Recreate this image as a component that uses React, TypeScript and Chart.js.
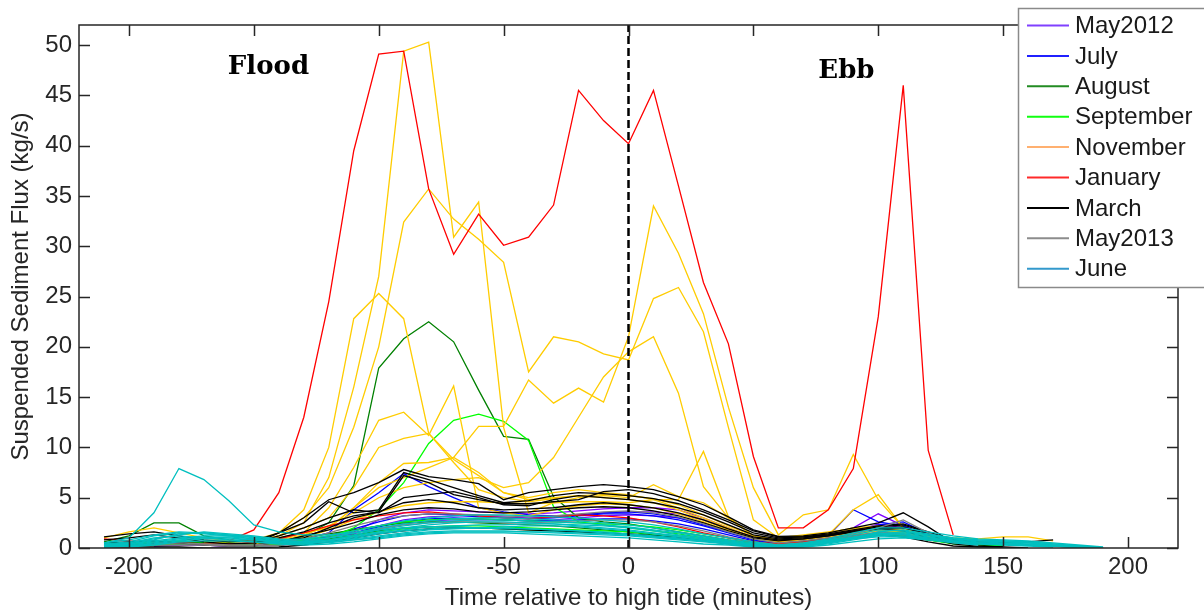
import React, { useEffect, useRef } from 'react';
import { Chart, registerables } from 'chart.js';

Chart.register(...registerables);

const _ = null;

// Time relative to high tide (minutes)
const TIME = [-210, -200, -190, -180, -170, -160, -150, -140, -130, -120,
  -110, -100, -90, -80, -70, -60, -50, -40, -30, -20,
  -10, 0, 10, 20, 30, 40, 50, 60, 70, 80,
  90, 100, 110, 120, 130, 140, 150, 160, 170, 180,
  190];

const X_TICKS = [-200, -150, -100, -50, 0, 50, 100, 150, 200];
const Y_TICKS = [0, 5, 10, 15, 20, 25, 30, 35, 40, 45, 50];

// May2012
const MAY12_A = [0.3, 0.4, 0.5, 0.5, 0.4, 0.3, 0.3, 0.4, 0.7, 1.1,
  1.6, 2.8, 3.5, 3.8, 3.7, 3.6, 3.5, 3.4, 3.5, 3.7,
  3.9, 4.0, 4.0, 3.8, 3.0, 2.0, 1.0, 0.5, 0.8, 1.2,
  2.0, 3.4, 2.2, 1.2, 0.6, 0.3, _, _, _, _, _];
const MAY12_B = [_, 0.3, 0.4, 0.4, 0.3, 0.2, 0.2, 0.3, 0.6, 1.0,
  1.4, 2.2, 2.8, 3.1, 3.2, 3.2, 3.1, 3.0, 3.1, 3.3,
  3.5, 3.6, 3.6, 3.4, 2.8, 1.9, 1.1, 0.5, 0.7, 1.1,
  1.6, 2.4, 2.0, 1.2, 0.7, 0.4, 0.2, _, _, _, _];
const MAY12_C = [_, _, 0.2, 0.3, 0.3, 0.2, 0.2, 0.3, 0.5, 0.8,
  1.2, 1.9, 2.4, 2.7, 2.8, 2.8, 2.8, 2.7, 2.8, 3.0,
  3.2, 3.3, 3.2, 3.0, 2.5, 1.7, 0.9, 0.4, 0.6, 1.0,
  1.5, 2.0, 1.7, 1.0, 0.5, 0.3, _, _, _, _, _];

// July
const JUL_A = [_, _, _, _, _, _, 0.3, 0.5, 0.9, 1.5,
  3.8, 5.5, 7.4, 6.1, 5.0, 4.0, 3.6, 3.3, 3.2, 3.3,
  3.5, 3.6, 3.4, 3.0, 2.3, 1.6, 0.9, 0.5, 0.7, 1.2,
  3.8, 2.6, 2.2, 1.2, 0.6, 0.3, _, _, _, _, _];
const JUL_B = [0.2, 0.3, 0.5, 0.6, 0.5, 0.4, 0.3, 0.4, 0.7, 1.2,
  1.9, 2.6, 3.2, 3.4, 3.3, 3.1, 3.0, 2.9, 3.0, 3.2,
  3.4, 3.4, 3.2, 2.8, 2.2, 1.5, 0.8, 0.4, 0.6, 1.0,
  1.5, 2.3, 2.6, 1.4, 0.6, 0.3, _, _, _, _, _];
const JUL_C = [_, 0.2, 0.3, 0.4, 0.4, 0.3, 0.3, 0.3, 0.5, 0.9,
  1.5, 2.1, 2.6, 2.9, 3.0, 2.9, 2.8, 2.7, 2.7, 2.8,
  2.9, 2.9, 2.7, 2.4, 1.9, 1.3, 0.7, 0.4, 0.5, 0.9,
  1.3, 2.0, 1.8, 1.1, 0.6, 0.3, _, _, _, _, _];

// August
const AUG_A = [0.4, 0.5, 0.6, 0.6, 0.5, 0.4, 0.4, 0.6, 1.2, 2.5,
  6.2, 17.9, 20.8, 22.5, 20.5, 15.7, 11.1, 10.8, 5.1, 3.0,
  2.6, 2.4, 2.0, 1.6, 1.2, 0.8, 0.5, 0.4, 0.6, 0.9,
  1.2, 1.5, 1.3, 0.9, 0.6, 0.3, _, _, _, _, _];
const AUG_B = [0.6, 1.2, 2.5, 2.5, 1.2, 0.8, 0.6, 0.7, 1.0, 1.4,
  1.8, 2.2, 2.5, 2.6, 2.6, 2.5, 2.4, 2.3, 2.2, 2.0,
  1.8, 1.6, 1.3, 1.0, 0.8, 0.6, 0.4, 0.3, 0.5, 0.8,
  1.1, 1.4, 1.2, 0.8, 0.5, 0.3, _, _, _, _, _];
const AUG_C = [_, 0.3, 0.5, 0.6, 0.5, 0.4, 0.3, 0.4, 0.6, 0.9,
  1.3, 1.7, 2.0, 2.1, 2.1, 2.0, 1.9, 1.8, 1.7, 1.6,
  1.5, 1.4, 1.2, 1.0, 0.7, 0.5, 0.3, 0.2, 0.4, 0.7,
  1.0, 1.3, 1.1, 0.8, 0.5, 0.3, 0.2, _, _, _, _];

// September
const SEP_A = [_, _, _, _, _, _, 0.3, 0.4, 0.5, 1.0,
  2.0, 3.8, 6.5, 10.4, 12.7, 13.3, 12.6, 10.7, 4.1, 2.6,
  2.3, 2.0, 1.7, 1.4, 1.0, 0.7, 0.4, 0.3, 0.5, 0.8,
  1.1, 1.3, 1.2, 0.8, 0.4, 0.2, _, _, _, _, _];
const SEP_B = [0.3, 0.4, 0.6, 0.7, 0.6, 0.5, 0.4, 0.5, 0.8, 1.2,
  1.7, 2.2, 2.6, 2.8, 2.9, 2.9, 2.8, 2.7, 2.6, 2.5,
  2.4, 2.3, 2.1, 1.8, 1.4, 1.0, 0.6, 0.3, 0.5, 0.9,
  1.3, 1.8, 1.6, 1.1, 0.7, 0.4, 0.2, _, _, _, _];
const SEP_C = [_, 0.2, 0.3, 0.4, 0.4, 0.3, 0.2, 0.3, 0.5, 0.8,
  1.2, 1.6, 1.9, 2.1, 2.2, 2.2, 2.1, 2.0, 1.9, 1.8,
  1.7, 1.6, 1.4, 1.2, 0.9, 0.6, 0.4, 0.2, 0.4, 0.7,
  1.0, 1.4, 1.3, 0.9, 0.6, 0.3, _, _, _, _, _];

// November
const NOV_A = [1.0, 1.6, 2.0, 1.5, 1.0, 0.7, 0.6, 1.2, 2.5, 7.0,
  16.0, 27.0, 49.4, 50.3, 30.9, 34.4, 12.0, 3.5, 4.5, 5.0,
  5.2, 5.0, 6.3, 5.1, 4.5, 3.0, 1.2, 0.8, 1.2, 1.5,
  2.0, 2.2, 1.8, 1.2, 0.8, 0.6, 0.5, _, _, _, _];
const NOV_B = [_, _, _, _, _, _, 0.8, 1.5, 3.0, 6.0,
  12.0, 20.0, 32.4, 35.7, 32.7, 30.7, 28.4, 17.5, 21.0, 20.5,
  19.3, 18.7, 24.8, 25.9, 21.5, 12.0, 2.8, 1.0, 1.3, 1.6,
  1.9, 2.1, 1.7, 1.1, 0.8, 0.6, _, _, _, _, _];
const NOV_C = [_, _, _, _, _, _, 0.6, 1.5, 3.8, 10.0,
  22.8, 25.3, 22.8, 11.4, 8.8, 7.2, 5.5, 4.8, 5.0, 5.2,
  5.0, 4.8, 4.5, 3.8, 2.8, 1.8, 1.0, 0.7, 1.0, 1.4,
  1.8, 2.1, 1.6, 1.0, 0.7, _, _, _, _, _, _];
const NOV_D = [_, _, _, _, _, _, 0.5, 1.0, 1.5, 4.0,
  8.0, 12.7, 13.5, 11.2, 16.1, 4.0, 3.5, 3.2, 3.8, 4.2,
  4.4, 4.3, 4.0, 3.4, 2.6, 1.7, 0.9, 0.6, 0.9, 1.2,
  1.6, 1.9, 1.5, 0.9, 0.6, _, _, _, _, _, _];
const NOV_E = [_, _, _, _, 0.5, 0.6, 0.7, 1.2, 2.0, 3.0,
  6.0, 10.0, 10.9, 11.4, 8.5, 5.8, 5.0, 4.6, 4.9, 5.2,
  5.3, 5.2, 4.9, 4.3, 3.3, 2.2, 1.2, 0.7, 0.9, 1.3,
  1.7, 2.0, 1.6, 1.1, 0.7, 0.5, _, _, _, _, _];
const NOV_F = [_, _, _, _, _, _, 0.5, 0.9, 1.5, 2.0,
  4.0, 6.0, 7.0, 8.0, 9.0, 12.1, 12.1, 16.7, 14.4, 15.9,
  14.5, 21.0, 34.0, 29.3, 23.3, 14.0, 6.0, 1.3, 3.3, 3.8,
  9.3, 4.8, 2.0, 1.3, 1.0, 0.9, 1.1, 1.1, 0.7, _, _];
const NOV_G = [_, _, _, _, _, _, _, 0.5, 1.0, 1.8,
  2.8, 3.6, 4.2, 4.5, 4.6, 4.6, 4.5, 4.4, 4.5, 4.6,
  4.6, 4.5, 4.8, 4.8, 9.6, 3.1, 1.2, 0.8, 1.0, 1.3,
  3.8, 5.3, 2.0, 1.2, 0.8, _, _, _, _, _, _];
const NOV_H = [_, _, _, _, _, _, 0.5, 1.0, 1.5, 2.0,
  4.0, 6.5, 8.4, 8.5, 9.0, 7.5, 5.5, 5.0, 5.5, 5.8,
  5.5, 5.3, 4.8, 4.0, 3.0, 2.0, 1.0, 0.6, 0.8, 1.1,
  1.4, 1.7, 1.3, 0.9, 0.6, _, _, _, _, _, _];
const NOV_I = [_, _, _, _, _, _, 0.4, 0.8, 1.3, 2.2,
  3.5, 5.0, 6.0, 6.5, 6.8, 7.0, 6.0, 6.5, 9.0, 13.0,
  17.0, 19.5, 21.0, 15.4, 6.1, 3.0, 1.2, 0.7, 0.9, 1.2,
  1.5, 1.8, 1.4, 0.9, 0.6, _, _, _, _, _, _];

// January
const JAN_A = [_, _, _, _, _, 0.7, 1.8, 5.5, 13.0, 24.5,
  39.5, 49.1, 49.4, 35.7, 29.2, 33.2, 30.1, 30.9, 34.1, 45.5,
  42.5, 40.2, 45.5, 36.0, 26.4, 20.3, 9.1, 2.0, 2.0, 3.8,
  7.9, 23.0, 46.0, 9.7, 1.3, _, _, _, _, _, _];
const JAN_B = [0.9, 0.7, 0.6, 0.5, 0.4, 0.4, 0.5, 0.9, 1.5, 2.2,
  2.8, 3.2, 3.5, 3.6, 3.4, 3.2, 3.0, 2.9, 3.1, 3.3,
  3.2, 3.0, 2.6, 2.1, 1.5, 1.0, 0.6, 0.4, 0.6, 0.9,
  1.2, 1.5, 1.3, 0.9, 0.5, _, _, _, _, _, _];

// March
const MAR_A = [_, _, _, _, _, _, 0.4, 1.5, 3.0, 4.8,
  5.5, 6.5, 7.8, 7.1, 6.8, 6.4, 4.8, 5.5, 5.8, 6.1,
  6.3, 6.1, 5.8, 5.1, 4.3, 3.1, 1.8, 1.15, 1.2, 1.5,
  2.0, 2.5, 3.5, 2.1, 0.5, _, _, _, _, _, _];
const MAR_B = [1.1, 1.4, 1.6, 1.2, 0.8, 0.6, 0.7, 1.5, 2.5, 4.6,
  3.5, 3.8, 7.5, 6.8, 6.0, 5.2, 4.5, 4.7, 5.2, 5.5,
  5.4, 5.2, 4.9, 4.4, 3.6, 2.6, 1.5, 1.0, 1.1, 1.4,
  1.8, 2.2, 2.4, 1.6, 0.8, 0.5, _, _, _, _, _];
const MAR_C = [_, _, _, _, _, _, 0.5, 1.2, 2.0, 3.0,
  3.8, 3.5, 5.0, 5.3, 5.6, 5.0, 4.3, 4.2, 4.8, 5.2,
  5.0, 4.8, 4.5, 4.0, 3.3, 2.3, 1.3, 0.9, 1.0, 1.3,
  1.7, 2.1, 2.3, 1.5, 0.6, _, _, _, _, _, _];
const MAR_D = [_, _, _, _, _, _, 0.3, 0.6, 1.0, 2.0,
  3.0, 3.6, 4.5, 4.8, 4.5, 4.0, 3.8, 3.9, 4.0, 4.3,
  4.5, 4.3, 4.0, 3.5, 2.8, 1.9, 1.1, 0.8, 0.9, 1.2,
  1.6, 1.9, 2.0, 1.4, 0.8, 0.6, 0.5, 0.6, 0.8, _, _];
const MAR_E = [0.8, 1.0, 1.3, 1.0, 0.6, 0.4, 0.5, 1.0, 1.6, 2.5,
  3.2, 3.6, 7.2, 6.5, 5.3, 4.8, 4.4, 4.4, 4.6, 4.8,
  5.6, 5.8, 5.4, 4.7, 3.8, 2.8, 1.7, 1.1, 1.1, 1.3,
  1.7, 2.0, 2.1, 1.3, 0.5, _, _, _, _, _, _];
const MAR_F = [0.5, 0.6, 0.7, 0.5, 0.3, 0.2, 0.2, 0.6, 1.2, 1.8,
  2.5, 3.3, 3.8, 4.0, 3.9, 3.6, 3.5, 3.6, 3.8, 4.0,
  4.1, 4.0, 3.7, 3.2, 2.5, 1.7, 1.0, 0.7, 0.9, 1.2,
  1.6, 1.9, 1.7, 1.0, 0.4, 0.2, 0.1, _, _, _, _];
const MAR_G = [0.1, 0.1, 0.1, 0.1, 0.0, 0.0, 0.0, 0.1, 0.3, 0.6,
  1.0, 1.4, 1.7, 1.9, 2.0, 2.0, 1.9, 1.8, 1.7, 1.6,
  1.5, 1.4, 1.2, 1.0, 0.7, 0.4, 0.2, 0.1, 0.3, 0.6,
  1.0, 1.3, 1.1, 0.6, 0.2, 0.1, 0.1, 0.0, _, _, _];

// May2013
const MAY13_A = [_, _, 0.4, 0.5, 0.4, 0.3, 0.3, 0.5, 0.9, 1.5,
  2.2, 2.8, 3.2, 3.4, 3.4, 3.3, 3.2, 3.1, 3.2, 3.4,
  3.6, 3.7, 3.5, 3.1, 2.4, 1.6, 0.9, 0.5, 0.7, 1.0,
  1.4, 2.0, 2.8, 1.5, 0.6, 0.3, _, _, _, _, _];
const MAY13_B = [_, 0.2, 0.3, 0.3, 0.3, 0.2, 0.2, 0.3, 0.6, 1.0,
  1.5, 1.9, 2.3, 2.5, 2.6, 2.6, 2.5, 2.5, 2.6, 2.7,
  2.8, 2.8, 2.6, 2.2, 1.7, 1.1, 0.6, 0.3, 0.5, 0.8,
  1.2, 1.6, 1.4, 0.9, 0.5, 0.3, _, _, _, _, _];

// June
const JUN_OUT = [0.5, 1.0, 3.5, 7.9, 6.8, 4.7, 2.3, 1.6, 1.3, 1.3,
  1.5, 1.8, 2.0, 2.1, 2.1, 2.0, 1.9, 1.9, 1.8, 1.7,
  1.5, 1.3, 1.1, 0.9, 0.7, 0.5, 0.3, 0.2, 0.4, 0.7,
  1.0, 1.3, 1.1, 0.8, 0.5, 0.3, _, _, _, _, _];
const JUN_1 = [0.3, 0.5, 1.0, 1.2, 1.0, 0.8, 0.6, 0.5, 0.6, 0.8,
  1.2, 1.6, 2.0, 2.3, 2.5, 2.6, 2.6, 2.5, 2.4, 2.2,
  2.0, 1.8, 1.5, 1.2, 0.9, 0.6, 0.3, 0.1, 0.3, 0.7,
  1.1, 1.5, 1.3, 1.0, 0.7, 0.5, 0.4, 0.3, 0.2, 0.1, 0.05];
const JUN_2 = [0.2, 0.4, 0.8, 1.4, 1.5, 1.3, 1.0, 0.7, 0.6, 0.7,
  1.0, 1.4, 1.7, 1.9, 2.0, 2.0, 2.0, 1.9, 1.8, 1.7,
  1.6, 1.4, 1.2, 1.0, 0.7, 0.5, 0.3, 0.1, 0.2, 0.5,
  0.9, 1.3, 1.4, 1.1, 0.8, 0.6, 0.5, 0.4, 0.2, 0.1, 0.0];
const JUN_3 = [0.4, 0.6, 1.2, 1.5, 1.4, 1.2, 0.9, 0.6, 0.7, 1.0,
  1.5, 2.0, 2.4, 2.7, 2.9, 3.0, 3.0, 2.9, 2.8, 2.7,
  2.5, 2.3, 2.0, 1.6, 1.2, 0.8, 0.5, 0.2, 0.4, 0.8,
  1.3, 1.8, 1.7, 1.3, 0.9, 0.7, 0.6, 0.5, 0.3, 0.2, 0.0];
const JUN_4 = [0.1, 0.2, 0.5, 0.8, 1.0, 1.1, 0.9, 0.6, 0.5, 0.5,
  0.8, 1.1, 1.4, 1.6, 1.7, 1.7, 1.7, 1.6, 1.5, 1.4,
  1.3, 1.2, 1.0, 0.8, 0.6, 0.4, 0.2, 0.0, 0.2, 0.4,
  0.8, 1.2, 1.2, 1.0, 0.7, 0.5, 0.4, 0.3, 0.2, 0.0, _];
const JUN_5 = [0.3, 0.5, 0.9, 1.3, 1.6, 1.4, 1.2, 0.9, 0.8, 1.0,
  1.3, 1.8, 2.2, 2.5, 2.7, 2.8, 2.8, 2.7, 2.6, 2.5,
  2.3, 2.1, 1.8, 1.5, 1.1, 0.7, 0.4, 0.2, 0.3, 0.6,
  1.0, 1.6, 1.8, 1.4, 1.0, 0.8, 0.7, 0.6, 0.4, 0.2, 0.0];
const JUN_6 = [0.2, 0.3, 0.6, 0.9, 1.1, 1.0, 0.8, 0.5, 0.4, 0.6,
  0.9, 1.2, 1.5, 1.8, 1.9, 2.0, 2.1, 2.2, 2.2, 2.1,
  1.9, 1.7, 1.4, 1.1, 0.8, 0.5, 0.2, 0.1, 0.3, 0.6,
  1.0, 1.4, 1.5, 1.2, 0.9, 0.7, 0.6, 0.5, 0.3, 0.1, _];
const JUN_7 = [_, 0.1, 0.3, 0.6, 0.7, 0.7, 0.6, 0.4, 0.3, 0.4,
  0.6, 0.9, 1.2, 1.4, 1.5, 1.5, 1.5, 1.4, 1.3, 1.2,
  1.1, 1.0, 0.8, 0.6, 0.4, 0.3, 0.1, 0.0, 0.1, 0.3,
  0.6, 0.9, 1.0, 0.8, 0.6, 0.4, 0.3, 0.2, 0.1, _, _];
const JUN_8 = [0.5, 0.8, 1.3, 1.6, 1.5, 1.3, 1.1, 0.8, 0.9, 1.2,
  1.7, 2.2, 2.7, 3.0, 3.2, 3.3, 3.3, 3.2, 3.1, 3.0,
  2.8, 2.6, 2.3, 1.9, 1.4, 1.0, 0.6, 0.3, 0.5, 0.9,
  1.5, 2.0, 2.0, 1.6, 1.2, 0.9, 0.8, 0.7, 0.5, 0.3, 0.1];
const JUN_9 = [0.3, 0.4, 0.7, 1.0, 1.2, 1.2, 1.1, 0.8, 0.6, 0.8,
  1.1, 1.5, 1.8, 2.1, 2.2, 2.3, 2.3, 2.4, 2.4, 2.3,
  2.2, 2.0, 1.7, 1.3, 1.0, 0.6, 0.3, 0.1, 0.3, 0.6,
  1.0, 1.4, 1.6, 1.3, 1.0, 0.8, 0.7, 0.6, 0.4, 0.2, 0.0];
const JUN_10 = [0.1, 0.2, 0.4, 0.7, 0.9, 0.9, 0.8, 0.6, 0.5, 0.6,
  0.8, 1.0, 1.3, 1.5, 1.6, 1.6, 1.6, 1.6, 1.6, 1.5,
  1.4, 1.3, 1.1, 0.9, 0.7, 0.4, 0.2, 0.0, 0.2, 0.5,
  0.9, 1.1, 1.1, 0.9, 0.7, 0.5, 0.4, 0.3, 0.2, 0.1, 0.0];

// High-tide marker
const HT_X = [0, 0];
const HT_Y = [0, 52];

const MONTHS = ['May2012', 'July', 'August', 'September', 'November', 'January', 'March', 'May2013', 'June'];
const SERIES = [
  [MAY12_A, MAY12_B, MAY12_C],
  [JUL_A, JUL_B, JUL_C],
  [AUG_A, AUG_B, AUG_C],
  [SEP_A, SEP_B, SEP_C],
  [NOV_A, NOV_B, NOV_C, NOV_D, NOV_E, NOV_F, NOV_G, NOV_H, NOV_I],
  [JAN_A, JAN_B],
  [MAR_A, MAR_B, MAR_C, MAR_D, MAR_E, MAR_F, MAR_G],
  [MAY13_A, MAY13_B],
  [JUN_OUT, JUN_1, JUN_2, JUN_3, JUN_4, JUN_5, JUN_6, JUN_7, JUN_8, JUN_9, JUN_10],
];

const ANNOT_TEXT = ['Flood', 'Ebb'];
const ANNOT_X = [-160.4, 76];
const ANNOT_Y = [47.1, 46.7];

// styles
const LINE_COLORS = ['#8000ff', '#0000ff', '#008000', '#00ff00', '#ffcc00', '#ff0000', '#000000', '#808080', '#00bfbf'];
const LEGEND_COLORS = ['#8040ff', '#2020ff', '#228b22', '#10ff10', '#ffb070', '#ff2a2a', '#000000', '#8c8c8c', '#3399cc'];
const SANS = "'Liberation Sans', Arial, sans-serif";
const AXIS_COLOR = '#262626';

const decorPlugin = {
  id: 'decor',
  afterDatasetsDraw(chart: any) {
    const ctx = chart.ctx;
    const { left, right, top, bottom } = chart.chartArea;
    const xs = chart.scales.x;
    const ys = chart.scales.y;
    ctx.save();
    ctx.strokeStyle = AXIS_COLOR;
    ctx.lineWidth = 1.5;
    ctx.beginPath();
    X_TICKS.forEach((t) => {
      const px = Math.round(xs.getPixelForValue(t)) + 0.5;
      ctx.moveTo(px, bottom);
      ctx.lineTo(px, bottom - 11);
      ctx.moveTo(px, top);
      ctx.lineTo(px, top + 11);
    });
    Y_TICKS.forEach((v) => {
      const py = Math.round(ys.getPixelForValue(v)) + 0.5;
      ctx.moveTo(left, py);
      ctx.lineTo(left + 11, py);
      ctx.moveTo(right, py);
      ctx.lineTo(right - 11, py);
    });
    ctx.stroke();
    ctx.strokeRect(left, top, right - left, bottom - top);
    ctx.fillStyle = '#000';
    ctx.font = "bold 26px 'DejaVu Serif', serif";
    ctx.textBaseline = 'alphabetic';
    ctx.textAlign = 'left';
    ANNOT_TEXT.forEach((s, i) => {
      ctx.fillText(s, xs.getPixelForValue(ANNOT_X[i]), ys.getPixelForValue(ANNOT_Y[i]));
    });
    ctx.restore();
  },
  afterDraw(chart: any) {
    const ctx = chart.ctx;
    ctx.save();
    const bx = 1018.5, by = 8.5, bw = 200, bh = 279;
    ctx.fillStyle = '#ffffff';
    ctx.fillRect(bx, by, bw, bh);
    ctx.strokeStyle = '#8a8a8a';
    ctx.lineWidth = 1.5;
    ctx.strokeRect(bx, by, bw, bh);
    ctx.font = `24px ${SANS}`;
    ctx.textBaseline = 'middle';
    ctx.textAlign = 'left';
    MONTHS.forEach((m, i) => {
      const y = 25.5 + i * 30.4;
      ctx.strokeStyle = LEGEND_COLORS[i];
      ctx.lineWidth = 2;
      ctx.beginPath();
      ctx.moveTo(1027, y);
      ctx.lineTo(1069, y);
      ctx.stroke();
      ctx.fillStyle = '#1a1a1a';
      ctx.fillText(m, 1075, y + 1);
    });
    ctx.restore();
  },
};

export default function App() {
  const ref = useRef<HTMLCanvasElement | null>(null);

  useEffect(() => {
    if (!ref.current) return;
    const datasets: any[] = [];
    SERIES.forEach((group, mi) => {
      group.forEach((vals, k) => {
        const pts: { x: number; y: number }[] = [];
        vals.forEach((v, i) => {
          if (v !== null && v !== undefined) pts.push({ x: TIME[i], y: v as number });
        });
        datasets.push({
          label: k === 0 ? MONTHS[mi] : MONTHS[mi] + ' ' + (k + 1),
          data: pts,
          borderColor: LINE_COLORS[mi],
          backgroundColor: LINE_COLORS[mi],
          borderWidth: 1.3,
          pointRadius: 0,
          fill: false,
          tension: 0,
        });
      });
    });
    const n = datasets.length;
    datasets.forEach((d, i) => { d.order = n - i + 1; });
    datasets.push({
      label: 'High tide',
      data: HT_X.map((x, i) => ({ x, y: HT_Y[i] })),
      borderColor: '#000000',
      borderWidth: 2.5,
      borderDash: [8, 4],
      pointRadius: 0,
      fill: false,
      order: 0,
    });

    const chart = new Chart(ref.current, {
      type: 'line',
      data: { datasets },
      options: {
        animation: false,
        responsive: false,
        devicePixelRatio: 1,
        layout: { padding: { left: 0, right: 26, top: 25, bottom: 0 } },
        plugins: { legend: { display: false }, tooltip: { enabled: false } },
        scales: {
          x: {
            type: 'linear',
            min: -220,
            max: 220,
            grid: { display: false, drawTicks: false, tickLength: 0 },
            border: { display: false },
            ticks: {
              stepSize: 50,
              includeBounds: false,
              autoSkip: false,
              maxRotation: 0,
              padding: 5,
              color: AXIS_COLOR,
              font: { family: SANS, size: 24 },
            },
            title: {
              display: true,
              text: 'Time relative to high tide (minutes)',
              color: AXIS_COLOR,
              font: { family: SANS, size: 24 },
              padding: { top: 0, bottom: 1 },
            },
            afterFit(s: any) { s.height = 66; },
          },
          y: {
            type: 'linear',
            min: 0,
            max: 52,
            grid: { display: false, drawTicks: false, tickLength: 0 },
            border: { display: false },
            ticks: {
              stepSize: 5,
              includeBounds: false,
              padding: 7,
              color: AXIS_COLOR,
              font: { family: SANS, size: 24 },
            },
            title: {
              display: true,
              text: 'Suspended Sediment Flux (kg/s)',
              color: AXIS_COLOR,
              font: { family: SANS, size: 24 },
              padding: { top: 7, bottom: 0 },
            },
            afterFit(s: any) { s.width = 79; },
          },
        },
      } as any,
      plugins: [decorPlugin],
    });
    return () => chart.destroy();
  }, []);

  return (
    <div style={{ position: 'absolute', left: 0, top: 0, width: 1204, height: 614, background: '#fff' }}>
      <canvas ref={ref} width={1204} height={614} style={{ display: 'block' }} />
    </div>
  );
}
